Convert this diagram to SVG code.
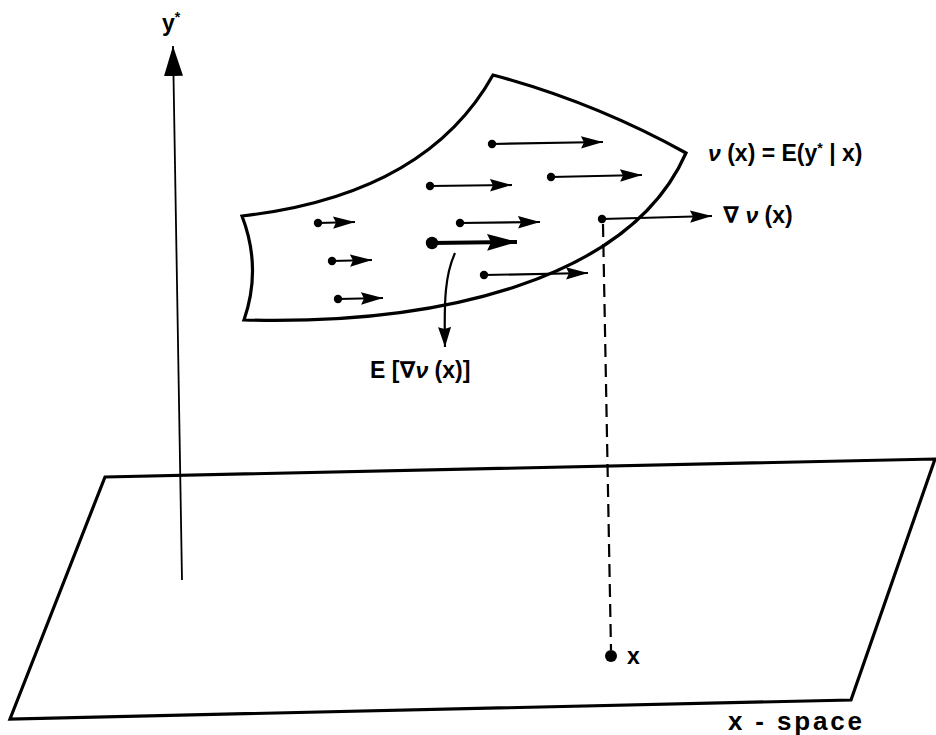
<svg xmlns="http://www.w3.org/2000/svg" width="936" height="735" viewBox="0 0 936 735">
<style>
.outline{fill:none;stroke:#000;stroke-width:3.2;stroke-linejoin:miter}
.vec{stroke:#000;stroke-width:2.2;fill:none;marker-start:url(#dot);marker-end:url(#head)}
.lbl{font-family:"Liberation Sans","DejaVu Sans",Arial,sans-serif;font-size:23px;font-weight:bold;fill:#000}
.big{font-size:26px}
.nu{font-style:italic}
</style>
<defs>
<marker id="head" markerUnits="userSpaceOnUse" markerWidth="26" markerHeight="16" refX="22" refY="7" orient="auto"><path d="M0,0.8 L22,7 L0,13.2 L3,7 Z" fill="#000"/></marker>
<marker id="dot" markerUnits="userSpaceOnUse" markerWidth="10" markerHeight="10" refX="5" refY="5"><circle cx="5" cy="5" r="4.2" fill="#000"/></marker>
<marker id="headBold" markerUnits="userSpaceOnUse" markerWidth="34" markerHeight="20" refX="30" refY="9" orient="auto"><path d="M0,0.5 L30,9 L0,17.5 L4,9 Z" fill="#000"/></marker>
<marker id="dotBold" markerUnits="userSpaceOnUse" markerWidth="14" markerHeight="14" refX="7" refY="7"><circle cx="7" cy="7" r="6.2" fill="#000"/></marker>
<marker id="headAxis" markerUnits="userSpaceOnUse" markerWidth="34" markerHeight="22" refX="30" refY="10" orient="auto"><path d="M0,0.5 L30,10 L0,19.5 Z" fill="#000"/></marker>
<marker id="headCurve" markerUnits="userSpaceOnUse" markerWidth="24" markerHeight="16" refX="20" refY="7" orient="auto"><path d="M0,0.5 L20,7 L0,13.5 L2,7 Z" fill="#000"/></marker>
</defs>

<g id="x-space-plane">
<path class="outline" d="M105,477 L935,459 L851,700 L10,719 Z" stroke-width="3.5"/>
<text class="lbl big" x="728" y="730" textLength="134" lengthAdjust="spacing">x - space</text>
</g>

<g id="regression-surface">
<path class="outline" d="M242,216 Q426,195 493,75 Q594,102 686,153 C630,280 440,325 244,320 Q262,268 242,216 Z"/>
<text class="lbl" x="708" y="161"><tspan class="nu">ν</tspan> (x) = E(y<tspan dy="-8" font-size="14">*</tspan><tspan dy="8"> | x)</tspan></text>
</g>

<g id="y-axis">
<line x1="182" y1="580" x2="173" y2="46" stroke="#000" stroke-width="1.8" marker-end="url(#headAxis)"/>
<text class="lbl" x="162" y="31">y<tspan dy="-9" font-size="14">*</tspan></text>
</g>

<g id="point-x">
<circle cx="611" cy="656" r="6" fill="#000"/>
<text class="lbl" x="627" y="664">x</text>
</g>

<g id="gradient-label">
<text class="lbl" x="723" y="223">∇ <tspan class="nu">ν</tspan> (x)</text>
</g>

<g id="expected-gradient-label">
<text class="lbl" x="370" y="378">E [∇<tspan class="nu">ν</tspan> (x)]</text>
</g>

<g id="connectors">
<line class="vec" x1="492" y1="144" x2="603" y2="142"/>
<line class="vec" x1="430" y1="186" x2="512" y2="185"/>
<line class="vec" x1="551" y1="177" x2="642" y2="175"/>
<line class="vec" x1="318" y1="223" x2="355" y2="222"/>
<line class="vec" x1="460" y1="223" x2="540" y2="222"/>
<line class="vec" x1="602" y1="219" x2="712" y2="216"/>
<line x1="432" y1="243" x2="517" y2="242" stroke="#000" stroke-width="4" marker-start="url(#dotBold)" marker-end="url(#headBold)"/>
<line class="vec" x1="332" y1="261" x2="372" y2="260"/>
<line class="vec" x1="484" y1="275" x2="588" y2="273"/>
<line class="vec" x1="338" y1="299" x2="383" y2="298"/>
<path d="M455,253 C445,275 444,300 445,347" fill="none" stroke="#000" stroke-width="2.2" marker-end="url(#headCurve)"/>
<line x1="603" y1="224" x2="611" y2="650" stroke="#000" stroke-width="2.2" stroke-dasharray="13 7"/>
</g>
</svg>
